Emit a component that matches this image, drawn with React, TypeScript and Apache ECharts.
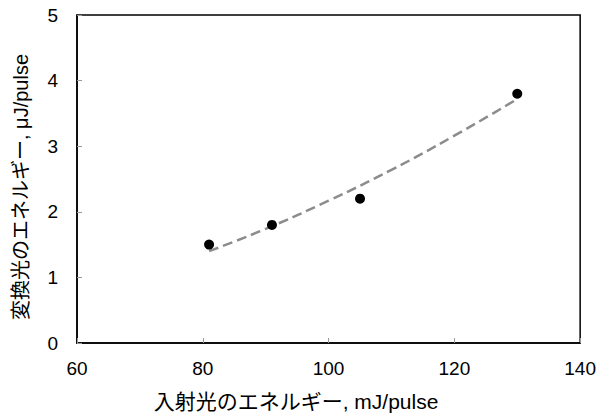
import React, { useEffect, useRef } from "react";
import * as echarts from "echarts";

const pointX = [81, 91, 105, 130];
const pointY = [1.5, 1.8, 2.2, 3.8];
const trendX = [81, 90, 100, 110, 120, 130];
const trendY = [1.4, 1.74, 2.17, 2.64, 3.16, 3.72];
const xTicks = [60, 80, 100, 120, 140];
const yTicks = [0, 1, 2, 3, 4, 5];
const xTitle = "入射光のエネルギー, mJ/pulse";
const yTitle = "変換光のエネルギー, μJ/pulse";

const FONT = "'Liberation Sans', Arial, 'Noto Sans CJK JP', sans-serif";

export default function App() {
  const ref = useRef<HTMLDivElement>(null);
  useEffect(() => {
    if (!ref.current) return;
    const chart = echarts.init(ref.current, undefined, { renderer: "svg" });
    chart.setOption({
      animation: false,
      backgroundColor: "#fff",
      textStyle: { fontFamily: FONT },
      grid: {
        left: 77,
        right: 18,
        top: 15,
        bottom: 71,
        show: true,
        borderColor: "#000",
        borderWidth: 1.5,
      },
      xAxis: {
        type: "value",
        min: xTicks[0],
        max: xTicks[xTicks.length - 1],
        interval: 20,
        axisLine: { show: true, onZero: false, lineStyle: { color: "#000", width: 1.5 } },
        axisTick: { show: true, inside: true, length: 5, lineStyle: { color: "#999" } },
        splitLine: { show: false },
        axisLabel: { color: "#000", fontSize: 19, margin: 16, fontFamily: FONT },
      },
      yAxis: {
        type: "value",
        min: yTicks[0],
        max: yTicks[yTicks.length - 1],
        interval: 1,
        axisLine: { show: true, lineStyle: { color: "#000", width: 1.5 } },
        axisTick: { show: true, inside: true, length: 5, lineStyle: { color: "#999" } },
        splitLine: { show: false },
        axisLabel: { color: "#000", fontSize: 19, margin: 19, fontFamily: FONT },
      },
      graphic: [
        {
          type: "text",
          x: 296,
          y: 401,
          style: {
            text: xTitle,
            fontSize: 21,
            fontFamily: FONT,
            fill: "#000",
            align: "center",
            verticalAlign: "middle",
          },
        },
        {
          type: "text",
          x: 21,
          y: 187,
          rotation: Math.PI / 2,
          style: {
            text: yTitle,
            fontSize: 20,
            fontFamily: FONT,
            fill: "#000",
            align: "center",
            verticalAlign: "middle",
          },
        },
      ],
      series: [
        {
          type: "line",
          data: trendX.map((x, i) => [x, trendY[i]]),
          smooth: true,
          showSymbol: false,
          symbol: "none",
          lineStyle: { color: "#8c8c8c", width: 2.5, type: [10, 5] },
          z: 1,
        },
        {
          type: "scatter",
          data: pointX.map((x, i) => [x, pointY[i]]),
          symbol: "circle",
          symbolSize: 10,
          itemStyle: { color: "#000", opacity: 1 },
          z: 2,
        },
      ],
    });
    return () => chart.dispose();
  }, []);
  return (
    <div
      ref={ref}
      style={{ position: "absolute", left: 0, top: 0, width: 599, height: 414 }}
    />
  );
}
